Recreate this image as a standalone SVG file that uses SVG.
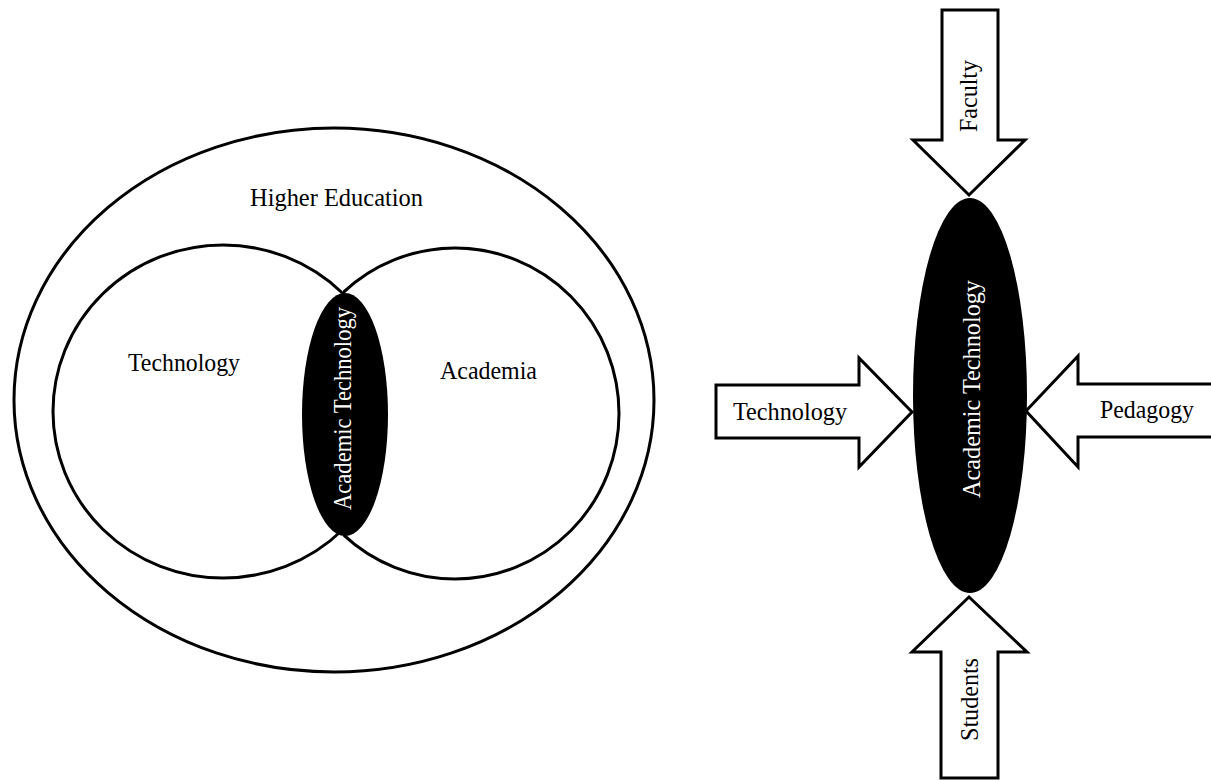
<svg xmlns="http://www.w3.org/2000/svg" width="1211" height="780" viewBox="0 0 1211 780">
<style>
.ln{fill:none;stroke:#000;stroke-width:3}
.arr{fill:#fff;stroke:#000;stroke-width:3;stroke-linejoin:miter}
.blk{fill:#000;stroke:none}
.t{font-family:"Liberation Serif","Times New Roman",serif;font-size:25px;fill:#000;text-anchor:middle}
.w{fill:#fff}
</style>
<defs>
<clipPath id="clipL"><rect x="0" y="0" width="344" height="780"/></clipPath>
<clipPath id="clipR"><rect x="343" y="0" width="400" height="780"/></clipPath>
</defs>
<rect width="1211" height="780" fill="#fff"/>
<g id="higher-education">
<ellipse class="ln" cx="334" cy="400" rx="320" ry="272"/>
<text class="t" x="336.5" y="206" textLength="173" lengthAdjust="spacingAndGlyphs">Higher Education</text>
</g>
<g id="technology-circle">
<ellipse class="ln" cx="223" cy="411.5" rx="170" ry="166.5" clip-path="url(#clipL)"/>
<text class="t" x="184" y="371" textLength="112" lengthAdjust="spacingAndGlyphs">Technology</text>
</g>
<g id="academia-circle">
<ellipse class="ln" cx="455" cy="413.5" rx="164" ry="165.5" clip-path="url(#clipR)"/>
<text class="t" x="488.5" y="379" textLength="97" lengthAdjust="spacingAndGlyphs">Academia</text>
</g>
<g id="academic-technology-left">
<ellipse class="blk" cx="345" cy="414.5" rx="43" ry="121.5"/>
<text class="t w" transform="translate(343,408.5) rotate(-90)" x="0" y="8" textLength="203" lengthAdjust="spacingAndGlyphs">Academic Technology</text>
</g>
<g id="academic-technology-right">
<ellipse class="blk" cx="970" cy="395.5" rx="57" ry="197.5"/>
<text class="t w" transform="translate(972,389) rotate(-90)" x="0" y="8" textLength="218" lengthAdjust="spacingAndGlyphs">Academic Technology</text>
</g>
<g id="connectors">
<g id="faculty-arrow">
<path class="arr" d="M942,10 H998 V140 H1025 L969,195 L913,140 H942 Z"/>
<text class="t" transform="translate(969,96) rotate(-90)" x="0" y="8" textLength="72" lengthAdjust="spacingAndGlyphs">Faculty</text>
</g>
<g id="technology-arrow">
<path class="arr" d="M716,385 H859 V358 L912,412 L859,467 V438 H716 Z"/>
<text class="t" x="790" y="420" textLength="114" lengthAdjust="spacingAndGlyphs">Technology</text>
</g>
<g id="pedagogy-arrow">
<path class="arr" d="M1216,384 H1078 V356 L1026,411 L1078,467 V437 H1216 Z"/>
<text class="t" x="1147" y="418" textLength="94" lengthAdjust="spacingAndGlyphs">Pedagogy</text>
</g>
<g id="students-arrow">
<path class="arr" d="M941,778 V652 H912 L969,597 L1027,652 H998 V778 Z"/>
<text class="t" transform="translate(970,699.5) rotate(-90)" x="0" y="8" textLength="83" lengthAdjust="spacingAndGlyphs">Students</text>
</g>
</g>
</svg>
